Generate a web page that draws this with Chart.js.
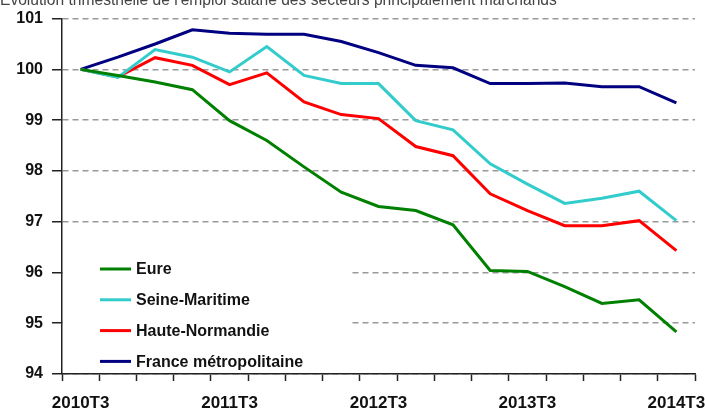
<!DOCTYPE html>
<html>
<head>
<meta charset="utf-8">
<script src="https://cdn.jsdelivr.net/npm/chart.js@4.4.1/dist/chart.umd.min.js"></script>
<style>
  html, body { margin: 0; padding: 0; background: #fff; }
  #wrap { position: relative; width: 705px; height: 412px; }
</style>
</head>
<body>
<div id="wrap"><canvas id="myChart" width="705" height="412"></canvas></div>
<script>
// Trimestres (axe X)
const quarters = ['2010T3','2010T4','2011T1','2011T2','2011T3','2011T4','2012T1','2012T2',
  '2012T3','2012T4','2013T1','2013T2','2013T3','2013T4','2014T1','2014T2','2014T3'];

// Séries (base 100 en 2010T3)
const eure   = [100, 99.88, 99.75, 99.60, 98.99, 98.60, 98.08, 97.58, 97.30, 97.22, 96.94, 96.04, 96.02, 95.72, 95.39, 95.46, 94.83];
const seine  = [100, 99.84, 100.39, 100.24, 99.95, 100.45, 99.88, 99.72, 99.72, 98.99, 98.81, 98.14, 97.74, 97.36, 97.46, 97.60, 97.02];
const haute  = [100, 99.85, 100.23, 100.08, 99.70, 99.93, 99.36, 99.11, 99.03, 98.48, 98.30, 97.55, 97.22, 96.92, 96.92, 97.02, 96.43];
const france = [100, 100.24, 100.50, 100.78, 100.71, 100.69, 100.69, 100.55, 100.33, 100.08, 100.03, 99.72, 99.72, 99.73, 99.66, 99.66, 99.34];

const seriesNames = ['Eure', 'Seine-Maritime', 'Haute-Normandie', 'France métropolitaine'];
const seriesColors = ['#008000', '#33CCCC', '#FF0000', '#000080'];
const yTicks = [94, 95, 96, 97, 98, 99, 100, 101];
const titleText = "Évolution trimestrielle de l'emploi salarié des secteurs principalement marchands";

const FONT = "'Liberation Sans', Arial, sans-serif";

// titre (coupé en haut) + légende dans le graphique
const extras = {
  id: 'extras',
  beforeDatasetsDraw(chart) {
    const ctx = chart.ctx;
    const area = chart.chartArea;
    ctx.save();
    // fond blanc de la légende qui masque les pointillés
    ctx.fillStyle = '#fff';
    ctx.fillRect(area.left + 1, 250, 286, area.bottom - 252);
    ctx.font = 'bold 16px ' + FONT;
    ctx.textBaseline = 'middle';
    seriesNames.forEach((name, i) => {
      const y = 269 + i * 30.8;
      ctx.strokeStyle = seriesColors[i];
      ctx.lineWidth = 3;
      ctx.beginPath();
      ctx.moveTo(100, y);
      ctx.lineTo(131, y);
      ctx.stroke();
      ctx.fillStyle = '#111';
      ctx.fillText(name, 136, y + 1);
    });
    ctx.restore();
  },
  afterDraw(chart) {
    const ctx = chart.ctx;
    ctx.save();
    ctx.font = '15.6px ' + FONT;
    ctx.fillStyle = '#444';
    ctx.textBaseline = 'alphabetic';
    ctx.fillText(titleText, 0, 5);
    ctx.restore();
  }
};

new Chart(document.getElementById('myChart').getContext('2d'), {
  type: 'line',
  data: {
    labels: quarters,
    datasets: [eure, seine, haute, france].map((d, i) => ({
      label: seriesNames[i],
      data: d,
      borderColor: seriesColors[i],
      backgroundColor: seriesColors[i],
      borderWidth: 3,
      pointRadius: 0,
      tension: 0,
      fill: false
    }))
  },
  options: {
    responsive: false,
    animation: false,
    layout: { padding: { top: 17.5, right: 10, left: 0, bottom: 0 } },
    plugins: {
      legend: { display: false },
      title: { display: false },
      tooltip: { enabled: false }
    },
    scales: {
      x: {
        type: 'category',
        offset: true,
        grid: {
          offset: true,
          drawOnChartArea: false,
          drawTicks: true,
          tickLength: 7,
          tickColor: '#222',
          tickWidth: 1.5
        },
        border: { display: true, color: '#222', width: 1.5 },
        ticks: {
          autoSkip: false,
          maxRotation: 0,
          padding: 12,
          color: '#111',
          font: { family: FONT, size: 17, weight: 'bold' },
          callback: function (val, idx) {
            return idx % 4 === 0 ? quarters[idx] : '';
          }
        },
        afterFit(scale) {
          scale.height = 38;
          scale.paddingLeft = 0;
          scale.paddingRight = 0;
        }
      },
      y: {
        min: 94,
        max: 101,
        afterBuildTicks(scale) {
          scale.ticks = yTicks.map(v => ({ value: v }));
        },
        grid: {
          color: '#999',
          lineWidth: 1.5,
          drawTicks: true,
          tickLength: 10,
          tickColor: '#222',
          tickBorderDash: [],
          tickWidth: 1.5
        },
        border: { display: true, color: '#222', width: 1.5, dash: [6, 4] },
        ticks: {
          padding: 9,
          color: '#111',
          font: { family: FONT, size: 16, weight: 'bold' }
        },
        afterFit(scale) {
          scale.width = 62;
        }
      }
    }
  },
  plugins: [extras]
});
</script>
</body>
</html>
